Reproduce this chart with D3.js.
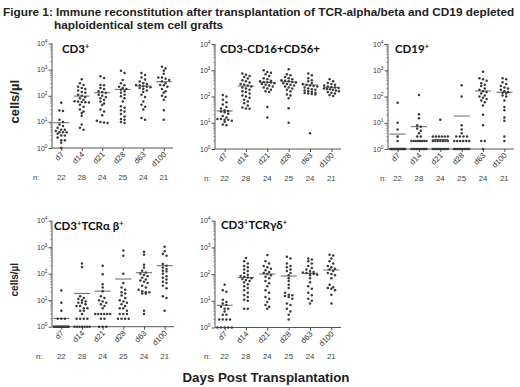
<!DOCTYPE html>
<html>
<head>
<meta charset="utf-8">
<script src="https://cdn.jsdelivr.net/npm/d3@7"></script>
<style>
  body { margin: 0; background: #fff; }
  svg { display: block; }
</style>
</head>
<body>
<svg id="fig"></svg>
<script>
// categories and group sizes
const days = ['d7', 'd14', 'd21', 'd28', 'd63', 'd100'];
const nCounts = [22, 28, 24, 25, 24, 21];

// cells/µl per patient (values <= 1 sit on the axis)
const cd3 = [
  [54, 27, 26, 12, 10, 8, 7, 6, 5, 5, 4.5, 4, 4, 4, 3.5, 3, 3, 2.5, 2, 2, 1.6, 1],
  [430, 300, 260, 220, 200, 180, 160, 140, 130, 110, 100, 90, 80, 70, 62, 60, 58, 56, 55, 45, 38, 30, 25, 22, 17, 8, 6, 5],
  [560, 480, 260, 250, 200, 180, 150, 140, 130, 110, 100, 90, 80, 70, 60, 50, 44, 30, 25, 18, 11, 10, 9.5, 9],
  [900, 750, 400, 300, 250, 220, 200, 180, 170, 150, 130, 110, 95, 80, 60, 40, 35, 28, 25, 20, 16, 13, 12, 10, 9],
  [750, 620, 500, 420, 350, 300, 280, 260, 250, 230, 220, 210, 200, 180, 160, 140, 110, 90, 60, 45, 38, 30, 14, 12],
  [1300, 1100, 900, 700, 500, 500, 450, 400, 350, 300, 260, 250, 220, 180, 150, 130, 100, 90, 70, 28, 12]
];
const cd3Means = [9.3, 97, 130, 175, 235, 345];

const cd56 = [
  [115, 100, 75, 60, 50, 40, 35, 30, 28, 27, 25, 22, 18, 16, 14, 14, 13, 13, 12, 11, 8.5, 8],
  [750, 680, 600, 550, 480, 420, 380, 340, 300, 280, 260, 240, 220, 200, 180, 160, 150, 130, 110, 100, 90, 75, 65, 55, 45, 38, 35, 34],
  [1000, 850, 800, 700, 600, 500, 450, 400, 380, 360, 350, 340, 320, 300, 280, 260, 240, 220, 200, 180, 160, 150, 40, 16],
  [1100, 700, 650, 550, 500, 450, 420, 400, 380, 360, 340, 320, 300, 280, 260, 240, 220, 200, 180, 160, 120, 110, 85, 36, 10],
  [750, 650, 500, 420, 380, 330, 300, 280, 260, 250, 240, 220, 200, 190, 180, 170, 160, 150, 140, 135, 130, 125, 120, 4],
  [450, 380, 330, 300, 280, 260, 240, 230, 220, 210, 200, 195, 190, 180, 170, 160, 150, 140, 130, 115, 105]
];
const cd56Means = [28, 250, 345, 365, 275, 223];

const cd19 = [
  [58, 10, 5.5, 3, 2, 1, 1, 1, 1, 1, 1, 1, 1, 1, 1, 1, 1, 1, 1, 1, 1, 1],
  [113, 21, 15, 8, 7, 6, 5, 4, 3, 3, 2, 2, 2, 2, 2, 2, 2, 2, 1, 1, 1, 1, 1, 1, 1, 1, 1, 1],
  [13, 3, 3, 3, 3, 3, 3, 2, 2, 2, 2, 2, 2, 2, 1, 1, 1, 1, 1, 1, 1, 1, 1, 1],
  [270, 100, 8, 5.5, 4, 3, 3, 3, 3, 2, 2, 2, 2, 2, 2, 1, 1, 1, 1, 1, 1, 1, 1, 1, 1],
  [880, 500, 450, 400, 320, 280, 250, 200, 180, 160, 150, 130, 110, 100, 90, 80, 70, 60, 45, 20, 8, 2, 2, 1],
  [500, 450, 350, 300, 250, 220, 200, 180, 160, 150, 140, 130, 110, 100, 70, 40, 30, 16, 12, 3, 2]
];
const cd19Means = [3.7, 7.1, 2.3, 18, 162, 145];

const tcrab = [
  [23, 8, 4, 2, 2, 2, 1, 1, 1, 1, 1, 1, 1, 1, 1, 1, 1, 1, 1, 1, 1, 1],
  [240, 180, 14, 12, 11, 10, 9, 8, 8, 7, 6, 6, 5, 5, 4, 4, 3, 2, 2, 2, 2, 1, 1, 1, 1, 1, 1, 1],
  [200, 95, 40, 30, 22, 14, 12, 10, 9, 8, 7, 6, 5, 3, 3, 3, 3, 3, 3, 2, 2, 1, 1, 1],
  [750, 480, 100, 45, 30, 25, 20, 18, 15, 12, 10, 9, 8, 7, 6, 5, 5, 4, 3, 3, 3, 2, 2, 2, 2],
  [680, 520, 220, 170, 130, 110, 100, 90, 80, 70, 60, 55, 50, 45, 35, 30, 25, 22, 20, 20, 18, 18, 4, 3],
  [1050, 700, 550, 480, 230, 200, 170, 150, 130, 120, 100, 80, 70, 60, 50, 45, 35, 28, 14, 12, 4]
];
const tcrabMeans = [2.05, 18, 22, 63, 109, 200];

const tcrgd = [
  [40, 25, 22, 11, 9, 8, 7, 6, 5, 5, 4, 3, 3, 2, 2, 2, 2, 1, 1, 1, 1, 1],
  [400, 300, 250, 200, 180, 150, 130, 110, 95, 85, 80, 75, 70, 65, 60, 55, 50, 42, 35, 30, 25, 20, 16, 14, 11, 10, 5, 5],
  [520, 300, 250, 200, 180, 160, 140, 120, 110, 100, 90, 80, 70, 55, 45, 35, 25, 20, 14, 12, 9, 7, 6, 5],
  [450, 380, 250, 200, 180, 150, 130, 110, 90, 70, 55, 40, 30, 20, 17, 16, 15, 14, 12, 8, 7, 5, 4, 3, 2],
  [380, 350, 300, 250, 200, 170, 150, 130, 120, 115, 110, 105, 100, 95, 90, 70, 50, 35, 28, 20, 16, 12, 10, 8],
  [530, 500, 380, 300, 250, 200, 180, 160, 150, 130, 110, 100, 90, 70, 40, 32, 30, 28, 25, 17, 8]
];
const tcrgdMeans = [6.8, 74, 101, 85, 107, 143];

const yTicks = [1, 10, 100, 1000, 10000];

// panel titles as [text, superscript?] pieces
const titles = [
  [['CD3', 0], ['+', 1]],
  [['CD3-CD16+CD56+', 0]],
  [['CD19', 0], ['+', 1]],
  [['CD3', 0], ['+', 1], ['TCR\u03b1 \u03b2', 0], ['+', 1]],
  [['CD3', 0], ['+', 1], ['TCR\u03b3\u03b4', 0], ['+', 1]]
];
const series = [cd3, cd56, cd19, tcrab, tcrgd];
const means = [cd3Means, cd56Means, cd19Means, tcrabMeans, tcrgdMeans];

// where each panel sits on the page
const layout = [
  {left: 52, right: 173, top: 43.5, bottom: 148, tx: 62, ty: 53, nx: 33, ny: 180, ylab: 13},
  {left: 215, right: 341, top: 44, bottom: 149, tx: 220, ty: 53, nx: 204, ny: 181},
  {left: 388, right: 514, top: 44, bottom: 149, tx: 395, ty: 53, nx: 380, ny: 181},
  {left: 52, right: 174, top: 220.7, bottom: 326.7, tx: 54, ty: 230, nx: 36, ny: 359, ylab: 10},
  {left: 215, right: 341, top: 220.7, bottom: 327.5, tx: 221, ty: 229, nx: 204, ny: 359}
];

const width = 520, height = 387;
const sans = '"Liberation Sans", Arial, sans-serif';
const titleFont = 'Lato, "Open Sans", sans-serif';

const svg = d3.select('#fig')
  .attr('width', width)
  .attr('height', height)
  .attr('viewBox', [0, 0, width, height]);

// Figure title, fitted to the width of the original
const t1 = svg.append('text')
  .attr('x', 3).attr('y', 16)
  .attr('font-family', sans).attr('font-weight', 'bold')
  .attr('font-size', 12).attr('fill', '#222')
  .text('Figure 1: Immune reconstitution after transplantation of TCR-alpha/beta and CD19 depleted');
const fs = 12 * 512 / t1.node().getComputedTextLength();
t1.attr('font-size', fs);
svg.append('text')
  .attr('x', 54).attr('y', 29)
  .attr('font-family', sans).attr('font-weight', 'bold')
  .attr('font-size', fs).attr('fill', '#222')
  .text('haploidentical stem cell grafts');

// spread points sitting at the same height, GraphPad style
function swarm(vals, y, cx) {
  const pts = vals.map(v => ({v, y: y(Math.max(v, 1))})).sort((a, b) => a.y - b.y);
  const groups = [];
  pts.forEach(p => {
    const g = groups[groups.length - 1];
    if (g && p.y - g[0].y < 2.6) g.push(p); else groups.push([p]);
  });
  groups.forEach(g => {
    const n = g.length, s = n > 1 ? Math.min(3.6, 15 / (n - 1)) : 0;
    g.forEach((p, i) => { p.x = cx + (i - (n - 1) / 2) * s; });
  });
  return pts;
}

series.forEach((data, k) => {
  const L = layout[k];
  const g = svg.append('g');

  const x = d3.scalePoint(days, [L.left, L.right]).padding(0.45);
  const y = d3.scaleLog([1, 10000], [L.bottom, L.top]).clamp(true);

  // y axis
  const yAxis = d3.axisLeft(y)
    .tickValues(yTicks)
    .tickSize(3.5)
    .tickFormat('');
  const ya = g.append('g')
    .attr('transform', `translate(${L.left},0)`)
    .call(yAxis)
    .call(a => a.select('.domain').attr('d', `M0,${L.bottom}V${L.top}`))
    .call(a => a.selectAll('line, path').attr('stroke', '#555'));

  // minor ticks
  const minor = d3.range(0, 4).flatMap(e => d3.range(2, 10).map(m => m * 10 ** e));
  ya.append('g').selectAll('line')
    .data(minor)
    .join('line')
    .attr('x1', -2).attr('x2', 0)
    .attr('y1', d => y(d)).attr('y2', d => y(d))
    .attr('stroke', '#777').attr('stroke-width', 0.6);

  // tick labels 10^n
  g.append('g').selectAll('text')
    .data(yTicks)
    .join('text')
    .attr('x', L.left - 4.5)
    .attr('y', d => y(d) + 2.5)
    .attr('text-anchor', 'end')
    .attr('font-family', sans).attr('font-size', 7).attr('fill', '#333')
    .call(t => t.append('tspan').text('10'))
    .call(t => t.append('tspan')
      .attr('font-size', 4.8).attr('dy', -3)
      .text(d => Math.round(Math.log10(d))));

  // x axis
  const xAxis = d3.axisBottom(x).tickSize(3).tickSizeOuter(0).tickFormat('');
  g.append('g')
    .attr('transform', `translate(0,${L.bottom})`)
    .call(xAxis)
    .call(a => a.select('.domain').attr('d', `M${L.left},0H${L.right}`))
    .call(a => a.selectAll('line, path').attr('stroke', '#555'));

  g.append('g').selectAll('text')
    .data(days)
    .join('text')
    .attr('transform', d => `translate(${x(d) + 3},${L.bottom + 7}) rotate(-45)`)
    .attr('text-anchor', 'end')
    .attr('font-family', sans).attr('font-size', 7.8).attr('fill', '#333')
    .text(d => d);

  // n row
  g.append('text')
    .attr('x', L.nx).attr('y', L.ny)
    .attr('font-family', sans).attr('font-size', 7.8).attr('fill', '#444')
    .text('n:');
  g.append('g').selectAll('text')
    .data(nCounts)
    .join('text')
    .attr('x', (d, i) => x(days[i]))
    .attr('y', L.ny)
    .attr('text-anchor', 'middle')
    .attr('font-family', sans).attr('font-size', 7.8).attr('fill', '#444')
    .text(d => d);

  // mean lines
  g.append('g').selectAll('line')
    .data(means[k])
    .join('line')
    .attr('x1', (d, i) => x(days[i]) - 8)
    .attr('x2', (d, i) => x(days[i]) + 8)
    .attr('y1', d => y(d)).attr('y2', d => y(d))
    .attr('stroke', '#666').attr('stroke-width', 1);

  // dots
  data.forEach((vals, i) => {
    g.append('g').selectAll('circle')
      .data(swarm(vals, y, x(days[i])))
      .join('circle')
      .attr('cx', p => p.x).attr('cy', p => p.y)
      .attr('r', 1.25)
      .attr('fill', '#3a3a3a');
  });

  // title
  const tt = g.append('text')
    .attr('x', L.tx).attr('y', L.ty)
    .attr('font-family', titleFont).attr('font-weight', 'bold')
    .attr('font-size', 11.5).attr('fill', '#111');
  titles[k].forEach(([s, sup]) => {
    tt.append('tspan')
      .attr('font-size', sup ? 7.5 : 11.5)
      .attr('dy', sup ? -4.5 : (tt.selectAll('tspan').size() > 1 ? 4.5 : 0))
      .text(s);
  });

  // y label
  if (L.ylab) {
    g.append('text')
      .attr('transform', `translate(${L.ylab === 13 ? 19 : 18},${(L.top + L.bottom) / 2 + 6}) rotate(-90)`)
      .attr('text-anchor', 'middle')
      .attr('font-family', sans).attr('font-weight', 'bold')
      .attr('font-size', L.ylab).attr('fill', '#222')
      .text('cells/\u00b5l');
  }
});

svg.append('text')
  .attr('x', 266).attr('y', 382)
  .attr('text-anchor', 'middle')
  .attr('font-family', sans).attr('font-weight', 'bold')
  .attr('font-size', 13.3).attr('fill', '#222')
  .text('Days Post Transplantation');
</script>
</body>
</html>
